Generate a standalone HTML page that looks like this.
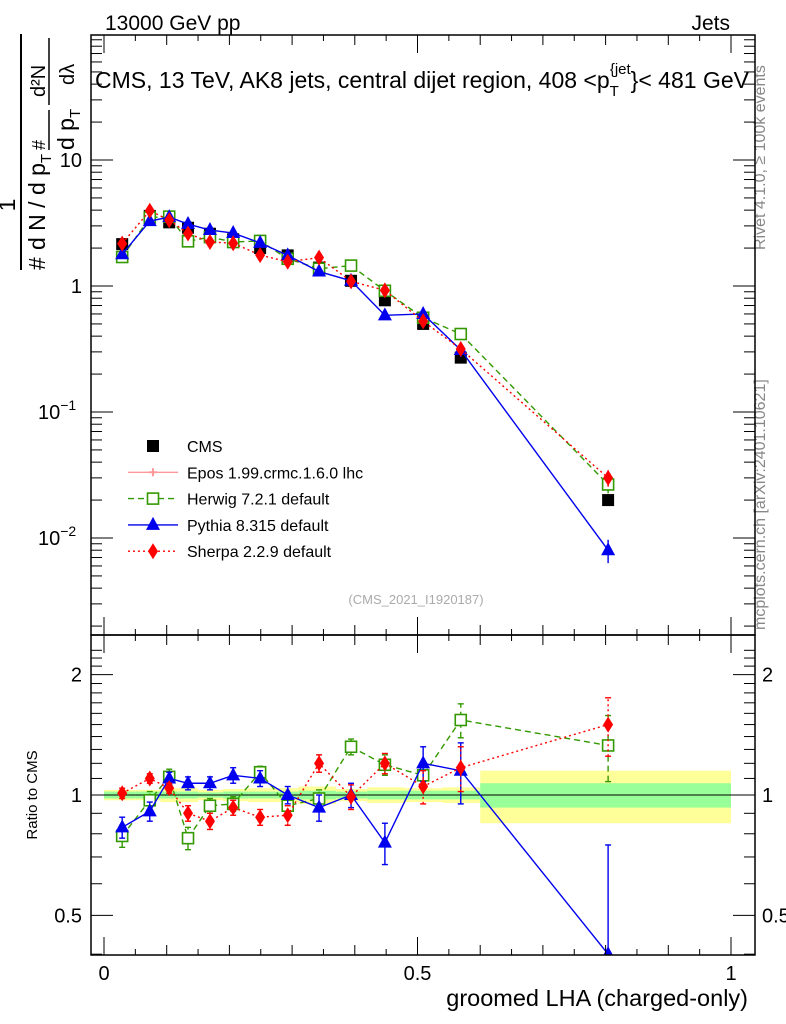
<!DOCTYPE html>
<html><head><meta charset="utf-8"><style>
html,body{margin:0;background:#fff;overflow:hidden;width:786px;height:1024px;}
svg{display:block;font-family:"Liberation Sans",sans-serif;overflow:hidden;}
</style></head><body>
<svg id="c" width="786" height="1024" viewBox="0 0 786 1024">
<defs><clipPath id="rc"><rect x="91" y="635" width="664" height="320"/></clipPath><clipPath id="mc"><rect x="91" y="35" width="664" height="600"/></clipPath></defs>
<text x="105" y="30" font-size="21">13000 GeV pp</text>
<text x="730" y="30" font-size="21" text-anchor="end">Jets</text>
<text x="422" y="88" font-size="23" text-anchor="middle">CMS, 13 TeV, AK8 jets, central dijet region, 408 &lt;p<tspan font-size="15" dy="8">T</tspan><tspan font-size="15" dy="-22" dx="-9">{jet</tspan><tspan dy="14">}&lt; 481 GeV</tspan></text>
<g font-size="23">
<line x1="21" y1="270" x2="21" y2="34" stroke="#000" stroke-width="2"/>
<text transform="translate(15,205) rotate(-90)" text-anchor="middle">1</text>
<text transform="translate(45,270) rotate(-90)">#</text>
<text transform="translate(45,250) rotate(-90)">d N / d p<tspan font-size="15" dy="6">T</tspan></text>
<line x1="49" y1="150" x2="49" y2="110" stroke="#000" stroke-width="1.5"/>
<text transform="translate(45,150) rotate(-90)" font-size="18">#</text>
<text transform="translate(74,150) rotate(-90)">d p<tspan font-size="15" dy="6">T</tspan></text>
<line x1="49" y1="105" x2="49" y2="38" stroke="#000" stroke-width="1.5"/>
<text transform="translate(45,97) rotate(-90)" font-size="20">d²N</text>
<text transform="translate(74,85) rotate(-90)" font-size="20">dλ</text>
</g>
<text transform="translate(765,250) rotate(-90)" font-size="16" fill="#888">Rivet 4.1.0, ≥ 100k events</text>
<text transform="translate(765,630) rotate(-90)" font-size="16" fill="#888">mcplots.cern.ch [arXiv:2401.10621]</text>
<text x="416" y="604" font-size="13" fill="#aaa" text-anchor="middle">(CMS_2021_I1920187)</text>
<text transform="translate(37,795) rotate(-90)" font-size="15" text-anchor="middle">Ratio to CMS</text>
<text x="748" y="1006" font-size="23.5" text-anchor="end">groomed LHA (charged-only)</text>
<g id="g"></g>
</svg>
<script>
const xVals=[0.029,0.073,0.104,0.134,0.169,0.206,0.249,0.293,0.343,0.394,0.448,0.509,0.569,0.804];
const cmsVals=[2.15,3.6,3.2,2.9,2.6,2.35,2.0,1.75,1.4,1.1,0.77,0.5,0.27,0.02];
const herwigRatio=[0.79,0.97,1.11,0.78,0.94,0.95,1.14,0.94,0.98,1.32,1.19,1.12,1.54,1.33];
const pythiaRatio=[0.83,0.91,1.10,1.07,1.07,1.12,1.10,1.0,0.93,1.0,0.76,1.20,1.15,0.40];
const sherpaRatio=[1.01,1.10,1.04,0.90,0.86,0.93,0.88,0.89,1.20,0.99,1.20,1.05,1.17,1.50];
const herwigErr=[0.05,0.05,0.05,0.05,0.04,0.04,0.04,0.04,0.05,0.06,0.07,0.08,0.15,0.25];
const pythiaErr=[0.05,0.05,0.04,0.04,0.04,0.05,0.05,0.05,0.07,0.07,0.09,0.12,0.2,0.35];
const sherpaErr=[0.03,0.03,0.03,0.04,0.04,0.04,0.04,0.05,0.06,0.07,0.07,0.1,0.15,0.25];
const binEdges=[0,0.05,0.09,0.12,0.15,0.19,0.23,0.27,0.31,0.37,0.42,0.48,0.54,0.6,1.0];
const bandGreen=[0.02,0.02,0.02,0.02,0.015,0.02,0.02,0.02,0.025,0.02,0.025,0.025,0.025,0.07];
const bandYellow=[0.03,0.03,0.04,0.04,0.03,0.035,0.04,0.04,0.05,0.035,0.045,0.04,0.045,0.15];
const NS='http://www.w3.org/2000/svg';
const g=document.getElementById('g');
const X=v=>104+627*v;
const Y=v=>286-126*Math.log10(v);
const R=v=>Math.min(795-400*Math.log10(v),955);
function el(t,a,parent){const e=document.createElementNS(NS,t);for(const k in a)e.setAttribute(k,a[k]);(parent||g).appendChild(e);return e;}
const rg=el('g',{'clip-path':'url(#rc)'});
const mg=el('g',{'clip-path':'url(#mc)'});
for(let i=0;i<binEdges.length-1;i++){
 const y1=el('rect',{x:X(binEdges[i]),y:R(1+bandYellow[i]),width:X(binEdges[i+1])-X(binEdges[i]),height:R(1-bandYellow[i])-R(1+bandYellow[i]),fill:'#ffff99'},rg);
 
 
 const y2=el('rect',{x:X(binEdges[i]),y:R(1+bandGreen[i]),width:X(binEdges[i+1])-X(binEdges[i]),height:R(1-bandGreen[i])-R(1+bandGreen[i]),fill:'#99ff99'},rg);
 
 
}
el('line',{x1:91,y1:R(1),x2:755,y2:R(1),stroke:'#000','stroke-width':1},rg);
const f1=el('rect',{x:91,y:35,width:664,height:600,fill:'none',stroke:'#000','stroke-width':1.5});


const f2=el('rect',{x:91,y:635,width:664,height:320,fill:'none',stroke:'#000','stroke-width':1.5});


for(let k=0;k<=20;k++){const v=k*0.05,x=X(v);const L=(k%10==0)?18:(k%2==0?10:6);
 for(const [top,bot] of [[35,635],[635,955]]){el('line',{x1:x,y1:bot,x2:x,y2:bot-L,stroke:'#000'});el('line',{x1:x,y1:top,x2:x,y2:top+L,stroke:'#000'});}}
const xTickLabels=['0','0.5','1'];
[0,0.5,1].forEach((v,i)=>{const t=el('text',{x:X(v),y:980,'font-size':20,'text-anchor':'middle'});t.textContent=xTickLabels[i];
 
 });
for(let d=-3;d<=1;d++){for(let m=1;m<10;m++){const v=m*Math.pow(10,d);const y=Y(v);if(y<35||y>635)continue;const L=m==1?22:11;
 el('line',{x1:91,y1:y,x2:91+L,y2:y,stroke:'#000'});el('line',{x1:755,y1:y,x2:755-L,y2:y,stroke:'#000'});}}
const yTickVals=[10,1,0.1,0.01];
const yTickLabels=['10','1','10','10'];
const yTickExp=['','','−1','−2'];
yTickVals.forEach((v,i)=>{const t=el('text',{x:82,y:Y(v)+7,'font-size':20,'text-anchor':'end'});t.textContent=yTickLabels[i];
 if(yTickExp[i]){const s=el('tspan',{'font-size':14,dy:-9},t);s.textContent=yTickExp[i];t.setAttribute('text-anchor','start');t.setAttribute('x',38);}
 
 });
for(let m=4;m<=23;m++){const v=m/10;const y=R(v);if(y<635||y>=955)continue;const L=(m==5||m==10||m==20)?22:11;
 el('line',{x1:91,y1:y,x2:91+L,y2:y,stroke:'#000'});el('line',{x1:755,y1:y,x2:755-L,y2:y,stroke:'#000'});}
const rTickVals=[2,1,0.5];const rTickLabels=['2','1','0.5'];
rTickVals.forEach((v,i)=>{for(const [x,a] of [[82,'end'],[762,'start']]){const t=el('text',{x:x,y:R(v)+7,'font-size':20,'text-anchor':a});t.textContent=rTickLabels[i];
 
 }});
function marker(type,x,y,c,name,par){let e;const p=par||g;
 if(type=='sq')e=el('rect',{x:x-6,y:y-6,width:12,height:12,fill:c},p);
 else if(type=='osq')e=el('rect',{x:x-5.5,y:y-5.5,width:11,height:11,fill:'#fff',stroke:c,'stroke-width':1.6},p);
 else if(type=='tri')e=el('polygon',{points:`${x},${y-8} ${x-7},${y+5} ${x+7},${y+5}`,fill:c},p);
 else if(type=='dia')e=el('polygon',{points:`${x},${y-8} ${x-5},${y} ${x},${y+8} ${x+5},${y}`,fill:c},p);
 else if(type=='cross')e=el('path',{d:`M${x-4} ${y}h8M${x} ${y-4}v8`,stroke:c,'stroke-width':2,fill:'none'},p);
 
 }
const series=[
 {r:herwigRatio,e:herwigErr,c:'#339900',dash:'6,4',m:'osq',n:'herwig'},
 {r:pythiaRatio,e:pythiaErr,c:'#0000ee',dash:'',m:'tri',n:'pythia'},
 {r:sherpaRatio,e:sherpaErr,c:'#ff0000',dash:'2,3',m:'dia',n:'sherpa'}];
xVals.forEach((v,i)=>marker('sq',X(v),Y(cmsVals[i]),'#000','cms-point',mg));
series.forEach(s=>{
 const mp=xVals.map((v,i)=>X(v)+','+Y(cmsVals[i]*s.r[i])).join(' ');
 const l1=el('polyline',{points:mp,fill:'none',stroke:s.c,'stroke-width':1.4,'stroke-dasharray':s.dash},mg);
 
 
 const rp=xVals.map((v,i)=>X(v)+','+R(s.r[i])).join(' ');
 const l2=el('polyline',{points:rp,fill:'none',stroke:s.c,'stroke-width':1.4,'stroke-dasharray':s.dash},rg);
 
 
 xVals.forEach((v,i)=>{const x=X(v);
  const lo=Math.max(s.r[i]-s.e[i],0.01),hi=s.r[i]+s.e[i];
  el('line',{x1:x,y1:R(lo),x2:x,y2:R(hi),stroke:s.c,'stroke-width':1.4,'stroke-dasharray':s.dash},rg);
  if(R(lo)<954)el('line',{x1:x-3,y1:R(lo),x2:x+3,y2:R(lo),stroke:s.c,'stroke-width':1.4},rg);
  el('line',{x1:x-3,y1:R(hi),x2:x+3,y2:R(hi),stroke:s.c,'stroke-width':1.4},rg);
  const mv=cmsVals[i]*s.r[i];
  el('line',{x1:x,y1:Y(mv*(1-s.e[i]*0.6)),x2:x,y2:Y(mv*(1+s.e[i]*0.6)),stroke:s.c,'stroke-width':1.4},mg);
  marker(s.m,x,Y(mv),s.c,s.n+'-point',mg);
  marker(s.m,x,R(s.r[i]),s.c,s.n+'-ratio-point',rg);});
});
const legNames=['CMS','Epos 1.99.crmc.1.6.0 lhc','Herwig 7.2.1 default','Pythia 8.315 default','Sherpa 2.2.9 default'];
const legCols=['#000','#ff9999','#339900','#0000ee','#ff0000'];
const legMark=['sq','cross','osq','tri','dia'];
const legDash=['','','6,4','','2,3'];
legNames.forEach((n,i)=>{const y=446+26.3*i;
 if(i>0){const l=el('line',{x1:128,y1:y,x2:178,y2:y,stroke:legCols[i],'stroke-width':1.4,'stroke-dasharray':legDash[i]});
  
  }
 marker(legMark[i],153,y,legCols[i],'legend-marker');
 const t=el('text',{x:187,y:y+6,'font-size':16});t.textContent=n;
 
 });
</script>
</body></html>
